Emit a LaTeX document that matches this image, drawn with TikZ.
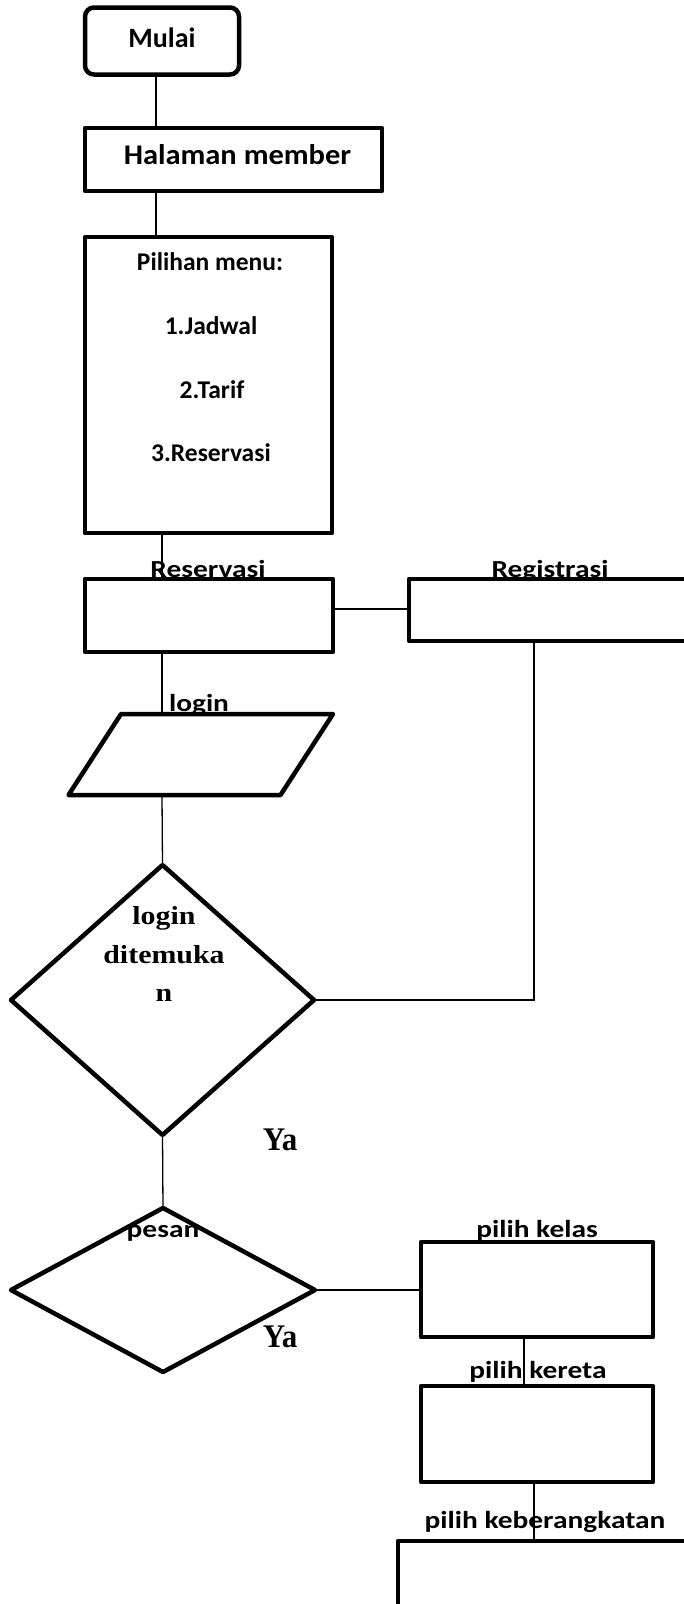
\documentclass[tikz,border=0pt]{standalone}
\usepackage{fontspec}
\usetikzlibrary{shapes.geometric,calc}
\newfontfamily\calfont{Carlito}
\newfontfamily\calhal[FakeStretch=1.07]{Carlito}
\newfontfamily\calwide[FakeStretch=1.2]{Carlito}
\newfontfamily\serifwide[FakeStretch=1.15]{Liberation Serif}
\newfontfamily\seriffont[FakeStretch=0.94]{Liberation Serif}
\begin{document}
\begin{tikzpicture}[x=1pt,y=-1pt,
  box/.style={draw, line width=4.5pt, line join=round, inner sep=0pt, outer sep=0pt, rectangle},
  dia/.style={draw, diamond, line width=4.5pt, line join=round, inner sep=0pt, outer sep=0pt},
  conn/.style={draw, line width=1.3pt},
  toptext/.style={font=\calfont\bfseries\fontsize{28}{32}\selectfont, inner sep=0pt, anchor=base},
  haltext/.style={font=\calhal\bfseries\fontsize{28.5}{32}\selectfont, inner sep=0pt, anchor=base},
  menutext/.style={font=\calfont\bfseries\fontsize{25.5}{30}\selectfont, inner sep=0pt, anchor=base},
  lbl/.style={font=\calwide\bfseries\fontsize{24.5}{28}\selectfont, inner sep=0pt, anchor=base},
  sertext/.style={font=\serifwide\bfseries\fontsize{26}{30}\selectfont, inner sep=0pt, anchor=base},
  yatext/.style={font=\seriffont\bfseries\fontsize{33}{38}\selectfont, inner sep=0pt, anchor=base}
]
\useasboundingbox (0,0) rectangle (684,1604);
\clip (0,0) rectangle (684,1604);

% boxes
\node[box, rounded corners=9pt, minimum width=154pt, minimum height=67pt] (mulai) at (162,41) {};
\node[box, minimum width=297pt, minimum height=63pt] (halaman) at (233.5,159.5) {};
\node[box, minimum width=247pt, minimum height=296pt] (pilihan) at (208.5,385) {};
\node[box, minimum width=248pt, minimum height=73pt] (reservasi) at (209,615.5) {};
\node[box, minimum width=311pt, minimum height=62pt] (registrasi) at (564.5,610) {};
\node[inner sep=0pt, outer sep=0pt, minimum width=264.5pt, minimum height=81pt] (login) at (200.75,754.5) {};
\draw[line width=4.5pt, line join=round] ($(login.north west)+(52.5,0)$) -- (login.north east)
  -- ($(login.south east)-(52.5,0)$) -- (login.south west) -- cycle;
\node[dia, minimum width=303pt, minimum height=270pt] (d1) at (162.5,1000) {};
\node[dia, minimum width=304pt, minimum height=164pt] (d2) at (163,1290) {};
\node[box, minimum width=232pt, minimum height=95pt] (kelas) at (537,1289.5) {};
\node[box, minimum width=232pt, minimum height=96pt] (kereta) at (537,1434) {};
\node[box, minimum width=322pt, minimum height=139pt] (berangkat) at (559,1610.5) {};

% connector coordinates
\coordinate (cxA) at (156,0);
\coordinate (cxB) at (162,0);
\coordinate (cyR) at (0,609);
\coordinate (cxR) at (534,0);
\coordinate (cxK1) at (524,0);
\coordinate (cxK2) at (534,0);

\draw[conn] (mulai.south -| cxA) -- (halaman.north -| cxA);
\draw[conn] (halaman.south -| cxA) -- (pilihan.north -| cxA);
\draw[conn] (pilihan.south -| cxB) -- (reservasi.north -| cxB);
\draw[conn] (reservasi.east |- cyR) -- (registrasi.west |- cyR);
\draw[conn] (reservasi.south -| cxB) -- (login.north -| cxB);
\draw[conn] (login.south -| cxB) -- (d1.north);
\draw[conn] (registrasi.south -| cxR) |- (d1.east);
\draw[conn] (d1.south) -- (d2.north);
\draw[conn] (d2.east) -- (kelas.west |- d2.east);
\draw[conn] (kelas.south -| cxK1) -- (kereta.north -| cxK1);
\draw[conn] (kereta.south -| cxK2) -- (berangkat.north -| cxK2);

% texts
\node[toptext] (tmulai) at (162,47.5) {Mulai};
\node[haltext] (thal) at (237.5,164.6) {Halaman member};
\node[menutext] (tmenu) at (210,270) {Pilihan menu:};
\node[menutext] (tjad) at (211,334.7) {1.Jadwal};
\node[menutext] (ttar) at (212,398.4) {2.Tarif};
\node[menutext] (tres3) at (211,461.4) {3.Reservasi};
\node[lbl] (tres) at (208,577.5) {Reservasi};
\node[lbl] (treg) at (550,577.5) {Registrasi};
\node[lbl] (tlogin) at (199,711.5) {login};
\node[sertext] (tl1) at (164,924) {login};
\node[sertext] (tl2) at (164,963) {ditemuka};
\node[sertext] (tl3) at (164,1001) {n};
\node[yatext] (tya1) at (280,1150) {Ya};
\node[lbl] (tpesan) at (163,1237) {pesan};
\node[yatext] (tya2) at (280,1347) {Ya};
\node[lbl] (tkelas) at (537,1237) {pilih kelas};
\node[lbl] (tkereta) at (538,1378) {pilih kereta};
\node[lbl] (tberangkat) at (545,1528) {pilih keberangkatan};
\end{tikzpicture}
\end{document}
